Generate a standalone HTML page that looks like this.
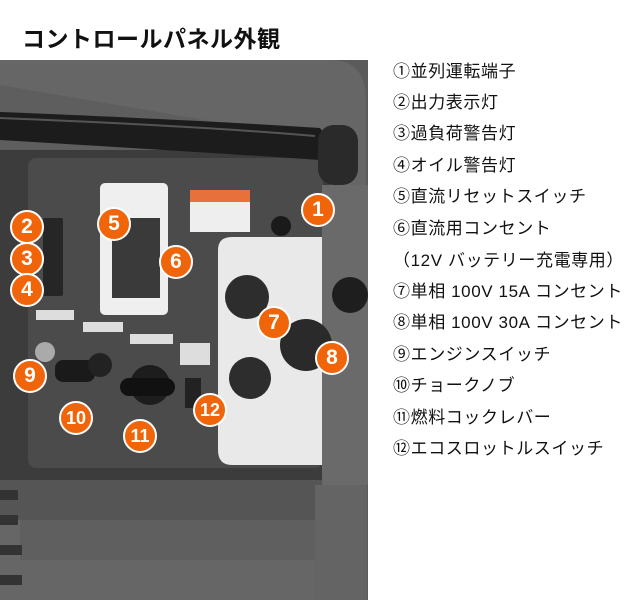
<!DOCTYPE html>
<html><head><meta charset="utf-8"><style>
body{margin:0;width:640px;height:600px;background:#fff;position:relative;overflow:hidden;font-family:"Liberation Sans","Noto Sans CJK JP",sans-serif}
.a{position:absolute}
h1{position:absolute;left:22px;top:20px;margin:0;font-size:23px;font-weight:bold;color:#111;letter-spacing:0.5px}
.li{position:absolute;left:393px;font-size:17px;color:#111;line-height:20px;white-space:nowrap;letter-spacing:0.6px}
.n{position:absolute;width:30px;height:30px;border-radius:50%;background:#f0640a;border:2px solid #fff;color:#fff;font-weight:bold;font-size:21px;text-align:center;line-height:30px;margin:-17px 0 0 -17px;font-family:"Liberation Sans",sans-serif}
</style></head><body>
<h1>コントロールパネル外観</h1>
<svg class="a" style="left:0;top:60px" width="368" height="540" viewBox="0 60 368 540">
<rect x="0" y="60" width="368" height="540" fill="#5b5b5b"/>
<path d="M0 60 H330 Q366 60 366 100 V600 H0Z" fill="#666"/>
<path d="M0 85 L310 138 L330 150 L0 150Z" fill="#5e5e5e"/>
<rect x="0" y="150" width="330" height="330" fill="#3c3c3c"/>
<rect x="28" y="158" width="295" height="310" rx="8" fill="#4b4b4b"/>
<path d="M0 112 Q200 120 320 128 L330 142 L320 160 Q200 152 0 140Z" fill="#1c1c1c"/>
<path d="M0 118 Q200 126 315 136" stroke="#555" stroke-width="2" fill="none"/>
<rect x="318" y="125" width="40" height="60" rx="16" fill="#2a2a2a"/>
<rect x="322" y="185" width="46" height="300" fill="#6a6a6a"/>
<circle cx="350" cy="295" r="18" fill="#1e1e1e"/>
<rect x="43" y="218" width="20" height="78" rx="2" fill="#262626"/>
<rect x="100" y="183" width="68" height="132" rx="5" fill="#efefef"/>
<rect x="112" y="218" width="48" height="80" fill="#3a3a3a"/>
<rect x="190" y="190" width="60" height="42" fill="#eee"/>
<rect x="190" y="190" width="60" height="12" fill="#e8703a"/>
<circle cx="281" cy="226" r="10" fill="#1a1a1a"/>
<path d="M218 250 Q218 237 232 237 H322 V465 H232 Q218 465 218 450Z" fill="#e9e9e9"/>
<circle cx="247" cy="297" r="22" fill="#2d2d2d"/>
<circle cx="250" cy="378" r="21" fill="#2d2d2d"/>
<circle cx="306" cy="345" r="26" fill="#2a2a2a"/>
<rect x="36" y="310" width="38" height="10" fill="#ddd"/>
<rect x="83" y="322" width="40" height="10" fill="#ddd"/>
<rect x="130" y="334" width="43" height="10" fill="#ddd"/>
<rect x="180" y="343" width="30" height="22" fill="#ddd"/>
<circle cx="45" cy="352" r="10" fill="#aaa"/>
<rect x="55" y="360" width="40" height="22" rx="8" fill="#1a1a1a"/>
<circle cx="100" cy="365" r="12" fill="#222"/>
<circle cx="150" cy="385" r="20" fill="#1d1d1d"/>
<rect x="120" y="378" width="55" height="18" rx="9" fill="#111"/>
<rect x="185" y="378" width="16" height="30" fill="#222"/>
<path d="M0 480 H322 V520 H0Z" fill="#555"/>
<path d="M20 520 H315 V560 H20Z" fill="#5f5f5f"/>
<rect x="0" y="490" width="18" height="10" fill="#333"/>
<rect x="0" y="515" width="18" height="10" fill="#333"/>
<rect x="0" y="545" width="22" height="10" fill="#333"/>
<rect x="0" y="575" width="22" height="10" fill="#333"/>
<rect x="315" y="485" width="52" height="115" fill="#646464"/>
</svg>
<div class="n" style="left:318px;top:210px">1</div>
<div class="n" style="left:27px;top:227px">2</div>
<div class="n" style="left:27px;top:259px">3</div>
<div class="n" style="left:27px;top:290px">4</div>
<div class="n" style="left:114px;top:224px">5</div>
<div class="n" style="left:176px;top:262px">6</div>
<div class="n" style="left:274px;top:323px">7</div>
<div class="n" style="left:332px;top:358px">8</div>
<div class="n" style="left:30px;top:376px">9</div>
<div class="n" style="left:76px;top:418px;font-size:18px">10</div>
<div class="n" style="left:140px;top:436px;font-size:18px">11</div>
<div class="n" style="left:210px;top:410px;font-size:18px">12</div>
<div class="li" style="top:62px">①並列運転端子</div>
<div class="li" style="top:93px">②出力表示灯</div>
<div class="li" style="top:124px">③過負荷警告灯</div>
<div class="li" style="top:156px">④オイル警告灯</div>
<div class="li" style="top:187px">⑤直流リセットスイッチ</div>
<div class="li" style="top:219px">⑥直流用コンセント</div>
<div class="li" style="top:251px">（12V バッテリー充電専用）</div>
<div class="li" style="top:282px">⑦単相 100V 15A コンセント</div>
<div class="li" style="top:313px">⑧単相 100V 30A コンセント</div>
<div class="li" style="top:345px">⑨エンジンスイッチ</div>
<div class="li" style="top:376px">⑩チョークノブ</div>
<div class="li" style="top:408px">⑪燃料コックレバー</div>
<div class="li" style="top:439px">⑫エコスロットルスイッチ</div>
</body></html>
